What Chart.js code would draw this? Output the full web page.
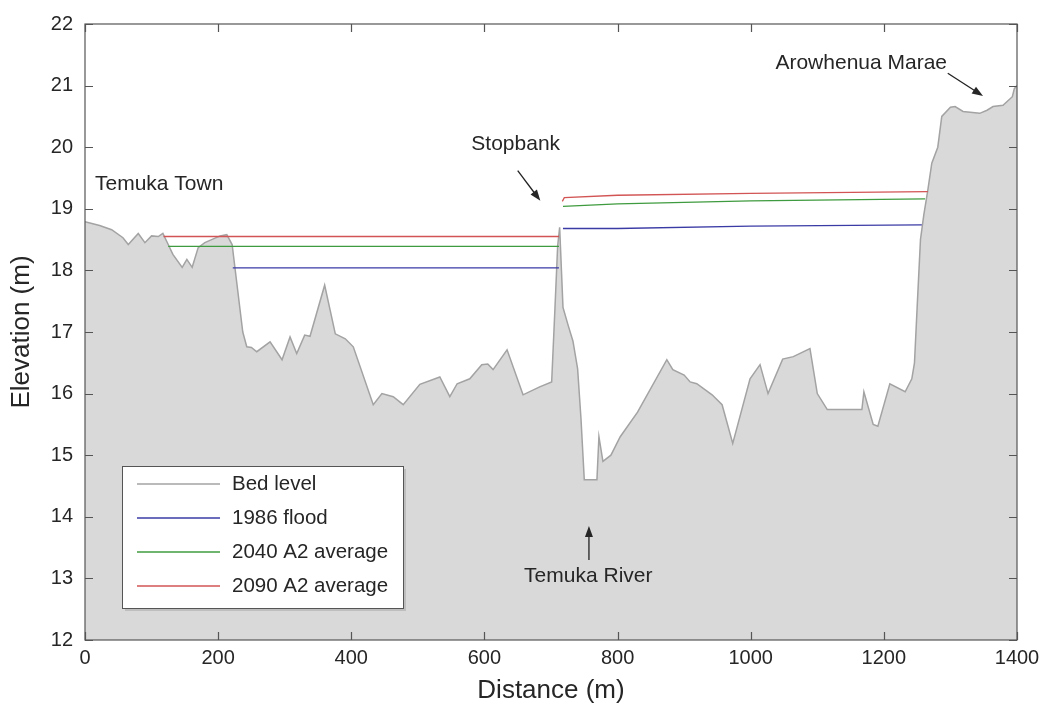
<!DOCTYPE html>
<html>
<head>
<meta charset="utf-8">
<script src="https://cdn.jsdelivr.net/npm/chart.js@4/dist/chart.umd.min.js"></script>
<style>
  html, body { margin: 0; padding: 0; background: #fff; }
</style>
</head>
<body>
<canvas id="profile" width="1046" height="708"></canvas>
<script>
// cross-section through Temuka River, chainage (m) vs bed elevation (m)
const bedDistance = [0, 22, 40, 57, 65, 80, 90, 100, 110, 117, 125, 132, 146, 153, 161, 170, 180, 203, 213, 221,
  237, 243, 250, 258, 278, 296, 308, 318, 330, 338, 360, 376, 391, 403, 433, 446, 463, 478, 503, 533,
  548, 559, 578, 596, 605, 613, 634, 658, 683, 701, 706, 710, 713, 718, 726, 733, 740, 745, 750, 769,
  772, 778, 790, 804, 830, 874, 883, 900, 909, 919, 942, 957, 973, 999, 1014, 1026, 1048, 1064, 1089, 1100,
  1115, 1167, 1170, 1184, 1191, 1209, 1232, 1242, 1246, 1250, 1255, 1260, 1266, 1272, 1281, 1287, 1300, 1307, 1319, 1344,
  1355, 1364, 1379, 1393, 1396, 1400];
const bedLevel = [18.79, 18.73, 18.66, 18.53, 18.42, 18.6, 18.45, 18.56, 18.55, 18.6, 18.42, 18.26, 18.05, 18.18, 18.05, 18.37, 18.45, 18.56, 18.58, 18.42,
  17.0, 16.76, 16.75, 16.68, 16.84, 16.55, 16.92, 16.65, 16.95, 16.93, 17.76, 16.97, 16.89, 16.76, 15.82, 16.0, 15.95, 15.82, 16.15, 16.27,
  15.95, 16.16, 16.24, 16.47, 16.48, 16.39, 16.71, 15.98, 16.11, 16.19, 17.4, 18.4, 18.7, 17.4, 17.1, 16.85, 16.4, 15.6, 14.6, 14.6,
  15.3, 14.9, 15.0, 15.3, 15.7, 16.55, 16.39, 16.3, 16.19, 16.16, 15.98, 15.82, 15.19, 16.24, 16.47, 16.0, 16.56, 16.6, 16.73, 16.0,
  15.74, 15.74, 16.03, 15.5, 15.47, 16.16, 16.03, 16.24, 16.5, 17.4, 18.5, 18.9, 19.3, 19.74, 20.0, 20.5, 20.65, 20.66, 20.58, 20.55,
  20.6, 20.66, 20.68, 20.82, 20.95, 21.0];

// water levels, null splits the floodplain reach from the main channel reach
const flood1986Distance = [222, 712, 713, 718, 800, 1000, 1257];
const flood1986Level = [18.04, 18.04, null, 18.68, 18.68, 18.72, 18.74];
const a2040Distance = [125, 712, 713, 718, 800, 1000, 1262];
const a2040Level = [18.39, 18.39, null, 19.04, 19.08, 19.13, 19.16];
const a2090Distance = [118, 712, 713, 717, 720, 800, 1000, 1266];
const a2090Level = [18.55, 18.55, null, 19.12, 19.18, 19.22, 19.25, 19.28];

const seriesNames = ['Bed level', '1986 flood', '2040 A2 average', '2090 A2 average'];
const seriesColors = ['#a3a3a3', '#3b3ba6', '#3f9b3f', '#d25454'];

const xTicks = [0, 200, 400, 600, 800, 1000, 1200, 1400];
const yTicks = [12, 13, 14, 15, 16, 17, 18, 19, 20, 21, 22];

const FONT = "'Liberation Sans', Arial, sans-serif";
const TEXT = '#262626';

const pairs = (xs, ys) => xs.map((x, i) => ({ x: x, y: ys[i] }));

// text labels with arrows, in data coordinates
const notes = [
  { text: 'Temuka Town', x: 15, y: 19.4, align: 'left' },
  { text: 'Stopbank', x: 647, y: 20.05, align: 'center', arrow: [650, 19.62, 684, 19.13] },
  { text: 'Temuka River', x: 756, y: 13.03, align: 'center', arrow: [757, 13.3, 757, 13.85] },
  { text: 'Arowhenua Marae', x: 1166, y: 21.36, align: 'center', arrow: [1296, 21.2, 1349, 20.83] }
];

function arrow(ctx, x1, y1, x2, y2) {
  const a = Math.atan2(y2 - y1, x2 - x1);
  const len = 11, w = 4;
  ctx.beginPath();
  ctx.moveTo(x1, y1);
  ctx.lineTo(x2 - Math.cos(a) * len * 0.8, y2 - Math.sin(a) * len * 0.8);
  ctx.stroke();
  ctx.beginPath();
  ctx.moveTo(x2, y2);
  ctx.lineTo(x2 - Math.cos(a) * len + Math.sin(a) * w, y2 - Math.sin(a) * len - Math.cos(a) * w);
  ctx.lineTo(x2 - Math.cos(a) * len - Math.sin(a) * w, y2 - Math.sin(a) * len + Math.cos(a) * w);
  ctx.closePath();
  ctx.fill();
}

const framePlugin = {
  id: 'frame',
  afterDatasetsDraw(chart) {
    const ctx = chart.ctx;
    const { left, right, top, bottom } = chart.chartArea;
    const xs = chart.scales.x, ys = chart.scales.y;
    ctx.save();

    // axes box with inward ticks
    ctx.strokeStyle = '#555';
    ctx.lineWidth = 1.2;
    ctx.strokeRect(left, top, right - left, bottom - top);
    ctx.beginPath();
    yTicks.forEach(v => {
      const py = Math.round(ys.getPixelForValue(v)) + 0.5;
      ctx.moveTo(left, py); ctx.lineTo(left + 8, py);
      ctx.moveTo(right, py); ctx.lineTo(right - 8, py);
    });
    xTicks.forEach(v => {
      const px = Math.round(xs.getPixelForValue(v)) + 0.5;
      ctx.moveTo(px, bottom); ctx.lineTo(px, bottom - 8);
      ctx.moveTo(px, top); ctx.lineTo(px, top + 8);
    });
    ctx.stroke();

    // annotations
    ctx.fillStyle = TEXT;
    ctx.strokeStyle = '#222';
    ctx.lineWidth = 1.3;
    ctx.font = '21px ' + FONT;
    ctx.textBaseline = 'middle';
    notes.forEach(n => {
      ctx.textAlign = n.align;
      ctx.fillText(n.text, xs.getPixelForValue(n.x), ys.getPixelForValue(n.y));
      if (n.arrow) {
        const [ax, ay, bx, by] = n.arrow;
        arrow(ctx, xs.getPixelForValue(ax), ys.getPixelForValue(ay), xs.getPixelForValue(bx), ys.getPixelForValue(by));
      }
    });

    // legend box
    const lx = left + 37, ly = top + 442, lw = 281, lh = 142;
    ctx.fillStyle = 'rgba(0,0,0,0.12)';
    ctx.fillRect(lx + 3, ly + 3, lw, lh);
    ctx.fillStyle = '#fff';
    ctx.fillRect(lx, ly, lw, lh);
    ctx.strokeStyle = '#555';
    ctx.lineWidth = 1;
    ctx.strokeRect(lx + 0.5, ly + 0.5, lw, lh);
    ctx.textAlign = 'left';
    ctx.font = '20.5px ' + FONT;
    seriesNames.forEach((name, i) => {
      const cy = ly + 18 + i * 34;
      ctx.strokeStyle = seriesColors[i];
      ctx.lineWidth = 1.3;
      ctx.beginPath();
      ctx.moveTo(lx + 15, cy); ctx.lineTo(lx + 98, cy);
      ctx.stroke();
      ctx.fillStyle = TEXT;
      ctx.fillText(name, lx + 110, cy);
    });
    ctx.restore();
  }
};

const waterLine = (label, data, color) => ({
  label: label,
  data: data,
  borderColor: color,
  borderWidth: 1.3,
  pointRadius: 0,
  fill: false,
  spanGaps: false,
  order: 1
});

new Chart(document.getElementById('profile').getContext('2d'), {
  type: 'line',
  data: {
    datasets: [
      waterLine(seriesNames[3], pairs(a2090Distance, a2090Level), seriesColors[3]),
      waterLine(seriesNames[2], pairs(a2040Distance, a2040Level), seriesColors[2]),
      waterLine(seriesNames[1], pairs(flood1986Distance, flood1986Level), seriesColors[1]),
      {
        label: seriesNames[0],
        data: pairs(bedDistance, bedLevel),
        borderColor: seriesColors[0],
        backgroundColor: '#d9d9d9',
        borderWidth: 1.5,
        pointRadius: 0,
        fill: 'start',
        tension: 0,
        order: 10
      }
    ]
  },
  options: {
    responsive: false,
    devicePixelRatio: 1,
    animation: false,
    layout: { autoPadding: false, padding: { top: 20, right: 29, left: 0, bottom: 0 } },
    plugins: {
      legend: { display: false },
      tooltip: { enabled: false }
    },
    scales: {
      x: {
        type: 'linear',
        min: 0,
        max: 1400,
        afterBuildTicks: s => { s.ticks = xTicks.map(v => ({ value: v })); },
        afterFit: s => { s.height = 68; },
        grid: { display: false, drawTicks: false },
        border: { display: false },
        ticks: { color: TEXT, font: { family: FONT, size: 20 }, padding: 6, callback: v => String(v) },
        title: { display: true, text: 'Distance (m)', color: TEXT, font: { family: FONT, size: 26 }, padding: { top: 2, bottom: 2 } }
      },
      y: {
        min: 12,
        max: 22,
        afterBuildTicks: s => { s.ticks = yTicks.map(v => ({ value: v })); },
        afterFit: s => { s.width = 85; },
        grid: { display: false, drawTicks: false },
        border: { display: false },
        ticks: { color: TEXT, font: { family: FONT, size: 20 }, padding: 12, callback: v => String(v) },
        title: { display: true, text: 'Elevation (m)', color: TEXT, font: { family: FONT, size: 26 }, padding: { top: 6, bottom: 0 } }
      }
    }
  },
  plugins: [framePlugin]
});
</script>
</body>
</html>
